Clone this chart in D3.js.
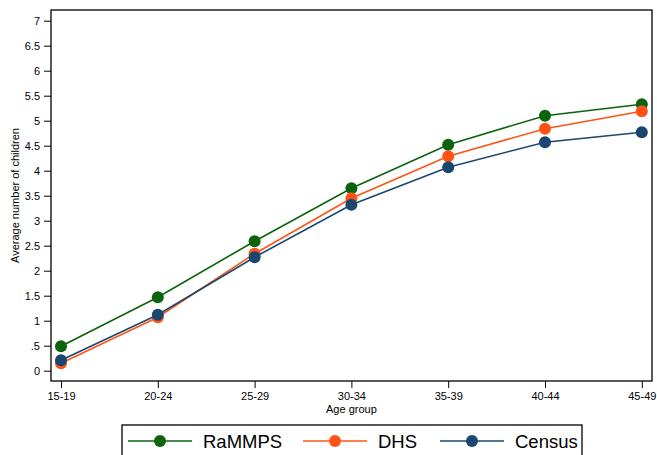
<!DOCTYPE html>
<html><head><meta charset="utf-8">
<script src="https://cdn.jsdelivr.net/npm/d3@7"></script>
<style>body{margin:0;background:#fff}svg{display:block}text{font-family:"Liberation Sans",Arial,sans-serif}</style>
</head><body>
<svg id="c" width="657" height="455"></svg>
<script>
const categories = ["15-19","20-24","25-29","30-34","35-39","40-44","45-49"];
const rammps = [0.49, 1.47, 2.59, 3.65, 4.52, 5.10, 5.33];
const dhs    = [0.15, 1.07, 2.34, 3.45, 4.29, 4.84, 5.19];
const census = [0.21, 1.12, 2.27, 3.32, 4.07, 4.57, 4.77];
const seriesNames = ["RaMMPS","DHS","Census"];
const seriesColors = ["#0b640b","#ff5316","#1a476f"];
const yTicks = [0,0.5,1,1.5,2,2.5,3,3.5,4,4.5,5,5.5,6,6.5,7];
const yTickLabels = ["0",".5","1","1.5","2","2.5","3","3.5","4","4.5","5","5.5","6","6.5","7"];

const svg = d3.select("#c");
const L=51, R=652, T=10, B=381;
const x = d3.scalePoint().domain(categories).range([61, 641.8]);
const y = d3.scaleLinear().domain([0,7]).range([370.7, 20.7]);

svg.append("rect").attr("x",L).attr("y",T).attr("width",R-L).attr("height",B-T)
  .attr("fill","none").attr("stroke","#000").attr("stroke-width",1.3);

const yAxis = d3.axisLeft(y).tickValues(yTicks).tickFormat((d,i)=>yTickLabels[i]).tickSize(7).tickPadding(4);
const gy = svg.append("g").attr("transform",`translate(${L},0)`).call(yAxis);
gy.select(".domain").remove();
gy.selectAll("text").attr("font-size",11).attr("fill","#000").style("font-family","'Liberation Sans',Arial,sans-serif");
gy.selectAll("line").attr("stroke","#000");

const xAxis = d3.axisBottom(x).tickSize(7).tickPadding(4);
const gx = svg.append("g").attr("transform",`translate(0,${B})`).call(xAxis);
gx.select(".domain").remove();
gx.selectAll("text").attr("font-size",11).attr("fill","#000").style("font-family","'Liberation Sans',Arial,sans-serif");
gx.selectAll("line").attr("stroke","#000");

svg.append("text").attr("x",(61+641.8)/2).attr("y",413).attr("text-anchor","middle")
  .attr("font-size",11).text("Age group");
svg.append("text").attr("transform",`translate(19,${(T+B)/2}) rotate(-90)`).attr("text-anchor","middle")
  .attr("font-size",11).text("Average number of children");

const all = [rammps, dhs, census];
const line = d3.line().x((d,i)=>x(categories[i])).y(d=>y(d));
all.forEach((vals,k)=>{
  const g = svg.append("g");
  g.append("path").datum(vals).attr("d",line).attr("fill","none")
    .attr("stroke",seriesColors[k]).attr("stroke-width",1.6);
  g.selectAll("circle").data(vals).join("circle")
    .attr("cx",(d,i)=>x(categories[i])).attr("cy",d=>y(d)).attr("r",6)
    .attr("fill",seriesColors[k]);
});

// legend
svg.append("rect").attr("x",122).attr("y",425).attr("width",460).attr("height",40)
  .attr("fill","#fff").attr("stroke","#000").attr("stroke-width",1.3);
const legX = [128, 303, 440];
seriesNames.forEach((n,k)=>{
  const lx = legX[k], ly = 441;
  svg.append("line").attr("x1",lx).attr("x2",lx+64).attr("y1",ly).attr("y2",ly)
    .attr("stroke",seriesColors[k]).attr("stroke-width",1.6);
  svg.append("circle").attr("cx",lx+32).attr("cy",ly).attr("r",6).attr("fill",seriesColors[k]);
  svg.append("text").attr("x",lx+75).attr("y",ly+7).attr("font-size",18.5).text(n);
});
</script>
</body></html>
